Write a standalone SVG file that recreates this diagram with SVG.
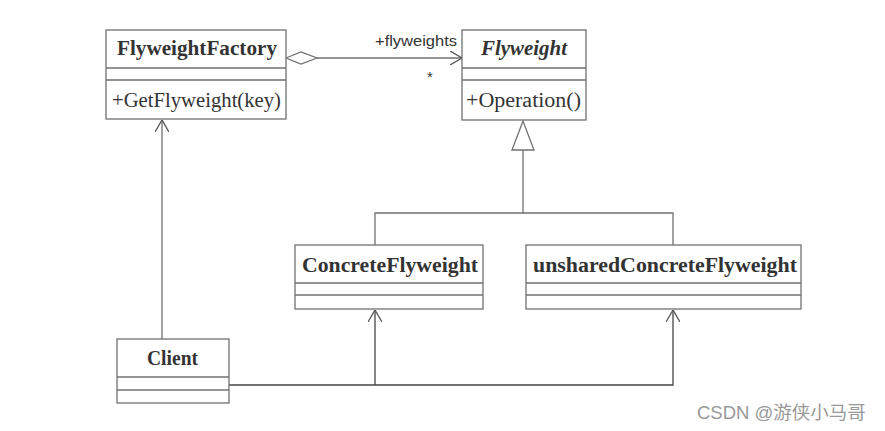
<svg xmlns="http://www.w3.org/2000/svg" width="885" height="431" viewBox="0 0 885 431">
<style>
.box{fill:#fff;stroke:#707070;stroke-width:1.3}
.sep{stroke:#707070;stroke-width:1.3}
.t{font-family:"Liberation Serif",serif;fill:#333;font-size:20px}
.b{font-weight:bold}
.ln{fill:none;stroke:#707070;stroke-width:1.3}
.ln2{fill:none;stroke:#444;stroke-width:1.3}
.s{font-family:"Liberation Sans",Arial,sans-serif;fill:#333;font-size:15px}
</style>
<defs>
<marker id="open" viewBox="0 0 12 14" refX="12" refY="7" markerWidth="12" markerHeight="14" markerUnits="userSpaceOnUse" orient="auto">
<path d="M0,0 L12,7 L0,14" fill="none" stroke="#555" stroke-width="1.3"/>
</marker>
</defs>
<rect width="885" height="431" fill="#fff"/>
<g id="connectors">
<line class="ln" x1="317" y1="58" x2="462" y2="58" marker-end="url(#open)"/>
<polygon points="286,58 301,52 317,58 301,64" fill="#fff" stroke="#707070" stroke-width="1.3"/>
<polyline class="ln" points="375,245 375,213 673,213 673,245"/>
<line class="ln" x1="523" y1="150" x2="523" y2="213"/>
<polygon points="523,121 512,150 534,150" fill="#fff" stroke="#707070" stroke-width="1.3"/>
<line class="ln" x1="162" y1="339" x2="162" y2="120" marker-end="url(#open)"/>
<polyline class="ln2" points="229,385 673,385 673,310" marker-end="url(#open)"/>
<line class="ln2" x1="375" y1="385" x2="375" y2="310" marker-end="url(#open)"/>
<text class="s" x="375" y="46" textLength="82" lengthAdjust="spacingAndGlyphs">+flyweights</text>
<text class="s" x="427" y="82" font-size="16">*</text>
</g>
<g id="FlyweightFactory">
<rect class="box" x="106" y="30" width="180" height="89"/>
<line class="sep" x1="106" y1="68" x2="286" y2="68"/>
<line class="sep" x1="106" y1="80" x2="286" y2="80"/>
<text class="t b" x="117" y="55" textLength="160" lengthAdjust="spacingAndGlyphs">FlyweightFactory</text>
<text class="t" x="112" y="107" textLength="169" lengthAdjust="spacingAndGlyphs">+GetFlyweight(key)</text>
</g>
<g id="Flyweight">
<rect class="box" x="462" y="30" width="124" height="90"/>
<line class="sep" x1="462" y1="68" x2="586" y2="68"/>
<line class="sep" x1="462" y1="80" x2="586" y2="80"/>
<text class="t b" x="481" y="55" font-style="italic" textLength="86" lengthAdjust="spacingAndGlyphs">Flyweight</text>
<text class="t" x="466" y="107" textLength="115" lengthAdjust="spacingAndGlyphs">+Operation()</text>
</g>
<g id="ConcreteFlyweight">
<rect class="box" x="295" y="245" width="188" height="64"/>
<line class="sep" x1="295" y1="283" x2="483" y2="283"/>
<line class="sep" x1="295" y1="295" x2="483" y2="295"/>
<text class="t b" x="302" y="272" textLength="176" lengthAdjust="spacingAndGlyphs">ConcreteFlyweight</text>
</g>
<g id="unsharedConcreteFlyweight">
<rect class="box" x="526" y="245" width="275" height="64"/>
<line class="sep" x1="526" y1="283" x2="801" y2="283"/>
<line class="sep" x1="526" y1="295" x2="801" y2="295"/>
<text class="t b" x="533" y="272" textLength="264" lengthAdjust="spacingAndGlyphs">unsharedConcreteFlyweight</text>
</g>
<g id="Client">
<rect class="box" x="117" y="339" width="112" height="64"/>
<line class="sep" x1="117" y1="377" x2="229" y2="377"/>
<line class="sep" x1="117" y1="390" x2="229" y2="390"/>
<text class="t b" x="147" y="365" textLength="51" lengthAdjust="spacingAndGlyphs">Client</text>
</g>
<text x="697" y="419" font-family="'Liberation Sans','Noto Sans CJK SC',sans-serif" font-size="18.5" fill="#999">CSDN @游侠小马哥</text>
</svg>
